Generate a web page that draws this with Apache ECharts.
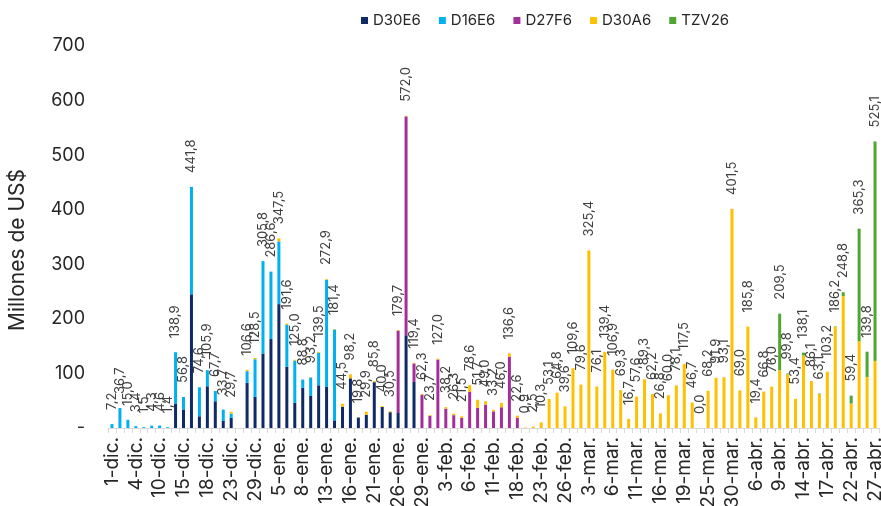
<!DOCTYPE html>
<html>
<head>
<meta charset="utf-8">
<script src="https://cdn.jsdelivr.net/npm/echarts@6/dist/echarts.min.js"></script>
<style>
  html, body { margin: 0; padding: 0; background: #fff; }
  #chart { width: 881px; height: 506px; }
</style>
</head>
<body>
<div id="chart"></div>
<script>
// días hábiles (un rótulo cada tres)
var categories = [
  '1-dic.','2-dic.','3-dic.','4-dic.','5-dic.','9-dic.','10-dic.','11-dic.',
  '12-dic.','15-dic.','16-dic.','17-dic.','18-dic.','19-dic.','22-dic.','23-dic.',
  '24-dic.','26-dic.','29-dic.','30-dic.','2-ene.',
  '5-ene.','6-ene.','7-ene.','8-ene.','9-ene.','12-ene.','13-ene.','14-ene.','15-ene.',
  '16-ene.','19-ene.','20-ene.','21-ene.','22-ene.','23-ene.','26-ene.','27-ene.','28-ene.',
  '29-ene.','30-ene.','2-feb.',
  '3-feb.','4-feb.','5-feb.','6-feb.','9-feb.','10-feb.','11-feb.','12-feb.','13-feb.',
  '18-feb.','19-feb.','20-feb.',
  '23-feb.','24-feb.','25-feb.','26-feb.','27-feb.','2-mar.',
  '3-mar.','4-mar.','5-mar.','6-mar.','9-mar.','10-mar.','11-mar.','12-mar.','13-mar.',
  '16-mar.','17-mar.','18-mar.','19-mar.','20-mar.','23-mar.','25-mar.','26-mar.','27-mar.',
  '30-mar.','31-mar.','1-abr.',
  '6-abr.','7-abr.','8-abr.','9-abr.','10-abr.','13-abr.','14-abr.','15-abr.','16-abr.',
  '17-abr.','20-abr.','21-abr.','22-abr.','23-abr.','24-abr.','27-abr.'
];

var d30e6 = [
  0,0,0,0,0,0,0,0,
  45,34,245,21.5,76.5,49,13,18.5,
  0,82.6,57,136.5,163,
  227,112,46,73.4,58.7,78.3,75.2,14,39,
  91,19.3,24,84,38.5,29,27.5,170,84.4,
  0,0,0,
  0,0,0,0,0,0,0,0,0, 0,0,0, 0,0,0,0,0,0,
  0,0,0,0,0,0,0,0,0, 0,0,0,0,0,0,0,0,0, 0,0,0,
  0,0,0,0,0,0,0,0,0, 0,0,0,0,0,0,0
];

var d16e6 = [
  7.2,36.7,15.0,3.4,1.5,4.3,4.6,1.4,
  93.9,22.8,196.8,53.1,29.4,18.7,20.7,8,
  0,21.5,69,169.3,123.6,
  115,77.6,77.5,15.4,33.8,59.7,196.5,166.5,0,
  0,0,0,0,0,0,0,0,0,
  0,0,0,
  0,0,0,0,0,0,0,0,0, 0,0,0, 0,0,0,0,0,0,
  0,0,0,0,0,0,0,0,0, 0,0,0,0,0,0,0,0,0, 0,0,0,
  0,0,0,0,0,0,0,0,0, 0,0,0,0,0,0,0
];

var d27f6 = [
  0,0,0,0,0,0,0,0,
  0,0,0,0,0,0,0,0,
  0,0,0,0,0,
  0,0,0,0,0,0,0,0,0,
  0,0,0,0,0,0,151,401,33.8,
  61,22.2,125.5,
  35.5,23.5,18.5,66,37,43,30.5,38,130.5,
  19,0,0,
  0,0,0,0,0,0,
  0,0,0,0,0,0,0,0,0, 0,0,0,0,0,0,0,0,0, 0,0,0,
  0,0,0,0,0,0,0,0,0, 0,0,0,0,0,0,0
];

var d30a6 = [
  0,0,0,0,0,0,0,0,
  0,0,0,0,0,0,0,3.2,
  0,2.5,2.5,0,0,
  5.5,2,1.5,0,0.7,1.5,1.2,0.9,5.5,
  7.2,0.5,5.9,1.8,1.5,1.5,1.2,1,1.2,
  1.3,1.5,1.5,
  2.7,2.8,3,12.6,14.7,6,2.7,8,6.1,
  3.6,0.9,2.5,
  10.3,53.1,64.8,39.6,109.6,79.6,
  325.4,76.1,139.4,106.9,69.3,16.7,57.6,89.3,62.2,
  26.8,60.0,78.1,117.5,46.7,0,68.2,91.9,93.1,
  401.5,69.0,185.8,
  19.4,66.8,76.0,106,98.5,53.4,133,86.1,62.1,
  103.2,185.4,241.6,45,159,93.6,123
];

var tzv26 = [
  0,0,0,0,0,0,0,0,
  0,0,0,0,0,0,0,0,
  0,0,0,0,0,
  0,0,0,0,0,0,0,0,0,
  0,0,0,0,0,0,0,0,0,
  0,0,0,
  0,0,0,0,0,0,0,0,0, 0,0,0, 0,0,0,0,0,0,
  0,0,0,0,0,0,0,0,0, 0,0,0,0,0,0,0,0,0, 0,0,0,
  0,0,0,103.5,1.3,0,5.1,0,1,
  0,0.8,7.2,14.4,206.3,46.2,402.1
];

// rótulos de total sobre cada barra
var totals = [
  7.2,36.7,15.0,3.4,1.5,4.3,4.6,1.4,
  138.9,56.8,441.8,74.6,105.9,67.7,33.7,29.7,
  null,106.6,128.5,305.8,286.6,
  347.5,191.6,125.0,88.8,93.2,139.5,272.9,181.4,44.5,
  98.2,19.8,29.9,85.8,40.0,30.5,179.7,572.0,119.4,
  62.3,23.7,127.0,
  38.2,26.3,21.5,78.6,51.7,49.0,33.2,46.0,136.6,
  22.6,0.9,2.5,
  10.3,53.1,64.8,39.6,109.6,79.6,
  325.4,76.1,139.4,106.9,69.3,16.7,57.6,89.3,62.2,
  26.8,60.0,78.1,117.5,46.7,0.0,68.2,91.9,93.1,
  401.5,69.0,185.8,
  19.4,66.8,76.0,209.5,99.8,53.4,138.1,86.1,63.1,
  103.2,186.2,248.8,59.4,365.3,139.8,525.1
];

var yTicks = [0, 100, 200, 300, 400, 500, 600, 700];

var FONT = 'Inter';
var fmt = function (v) { return v.toFixed(1).replace('.', ','); };

function seg(name, data, color) {
  return {
    name: name,
    type: 'bar',
    stack: 'total',
    barWidth: 3,
    itemStyle: { color: color },
    data: data
  };
}

var chart = echarts.init(document.getElementById('chart'));
chart.setOption({
  animation: false,
  textStyle: { fontFamily: FONT },
  legend: {
    data: ['D30E6', 'D16E6', 'D27F6', 'D30A6', 'TZV26'],
    left: 356,
    top: 8,
    itemWidth: 7,
    itemHeight: 7,
    itemGap: 18,
    icon: 'rect',
    textStyle: { fontSize: 15, color: '#262626', fontFamily: FONT }
  },
  grid: {
    left: 108, right: 2, top: 46, bottom: 78,
    containLabel: false,
    outerBoundsMode: 'none'
  },
  xAxis: {
    type: 'category',
    data: categories,
    axisLine: { lineStyle: { color: '#d9d9d9', width: 1 } },
    axisTick: { show: true, interval: 0, length: 5, lineStyle: { color: '#d9d9d9' } },
    axisLabel: {
      interval: 2,
      rotate: 90,
      margin: 9,
      fontSize: 19,
      color: '#262626',
      fontFamily: FONT
    }
  },
  yAxis: {
    type: 'value',
    min: yTicks[0],
    max: yTicks[yTicks.length - 1],
    interval: 100,
    name: 'Millones de US$',
    nameLocation: 'middle',
    nameGap: 80,
    nameTextStyle: {
      fontSize: 21,
      color: '#262626',
      fontFamily: FONT,
      padding: [0, 26, 0, 0]
    },
    axisLine: { show: false },
    axisTick: { show: false },
    splitLine: { show: false },
    axisLabel: {
      margin: 23,
      fontSize: 18,
      color: '#262626',
      fontFamily: FONT,
      formatter: function (v) { return v === 0 ? '-' : String(v); }
    }
  },
  series: [
    seg('D30E6', d30e6, '#0f2a66'),
    seg('D16E6', d16e6, '#00b0f0'),
    seg('D27F6', d27f6, '#a3309a'),
    seg('D30A6', d30a6, '#ffc000'),
    seg('TZV26', tzv26, '#4ea72e'),
    {
      name: 'total',
      type: 'bar',
      stack: 'total',
      barWidth: 3,
      itemStyle: { color: 'transparent' },
      data: totals.map(function () { return 0; }),
      label: {
        show: true,
        position: 'top',
        rotate: 90,
        align: 'left',
        verticalAlign: 'middle',
        distance: 14,
        fontSize: 13,
        color: '#404040',
        fontFamily: FONT,
        formatter: function (p) {
          var t = totals[p.dataIndex];
          return t === null ? '' : fmt(t);
        }
      }
    }
  ]
});
</script>
</body>
</html>
